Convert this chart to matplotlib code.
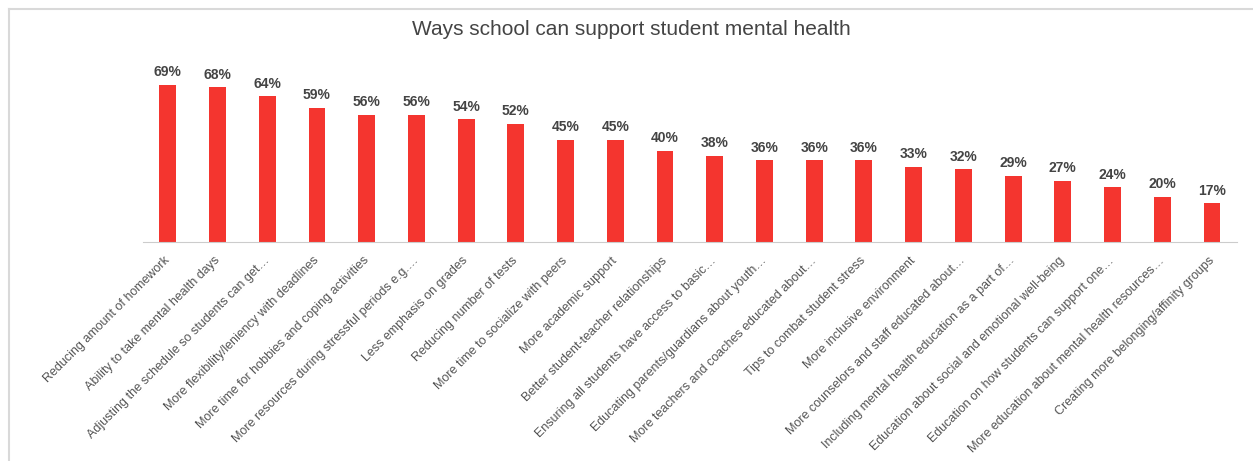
import matplotlib.pyplot as plt
import matplotlib.transforms as mtransforms
from matplotlib.lines import Line2D

plt.rcParams['font.family'] = ['Liberation Sans', 'DejaVu Sans']

categories = [
    "Reducing amount of homework",
    "Ability to take mental health days",
    "Adjusting the schedule so students can get…",
    "More flexibility/leniency with deadlines",
    "More time for hobbies and coping activities",
    "More resources during stressful periods e.g.…",
    "Less emphasis on grades",
    "Reducing number of tests",
    "More time to socialize with peers",
    "More academic support",
    "Better student-teacher relationships",
    "Ensuring all students have access to basic…",
    "Educating parents/guardians about youth…",
    "More teachers and coaches educated about…",
    "Tips to combat student stress",
    "More inclusive environment",
    "More counselors and staff educated about…",
    "Including mental health education as a part of…",
    "Education about social and emotional well-being",
    "Education on how students can support one…",
    "More education about mental health resources…",
    "Creating more belonging/affinity groups",
]
values = [69, 68, 64, 59, 56, 56, 54, 52, 45, 45, 40, 38, 36, 36, 36, 33, 32, 29, 27, 24, 20, 17]

fig = plt.figure(figsize=(12.53, 4.61), dpi=100)
ax = fig.add_axes([0.1141, 0.475, 0.873, 0.395])

x = range(len(categories))
ax.bar(x, values, width=0.34, color='#f4352f', zorder=2)
for i, v in zip(x, values):
    ax.annotate(f"{v}%", (i, v), xytext=(0, 4), textcoords='offset points',
                ha='center', va='bottom', fontsize=10, fontweight='bold', color='#444444')

ax.set_xlim(-0.5, len(categories) - 0.5)
ax.set_ylim(0, 80)
ax.set_xticks(list(x))
ax.set_xticklabels(categories, rotation=45, ha='right', rotation_mode='anchor',
                   fontsize=9, color='#555555')
ax.tick_params(axis='x', length=0, pad=9)
# nudge the slanted labels a little to the left
shift = mtransforms.ScaledTranslation(-4 / 100, 0, fig.dpi_scale_trans)
for lbl in ax.get_xticklabels():
    lbl.set_transform(lbl.get_transform() + shift)
ax.set_yticks([])
for side in ['top', 'right', 'left']:
    ax.spines[side].set_visible(False)
ax.spines['bottom'].set_color('#cccccc')

fig.text(0.504, 0.937, "Ways school can support student mental health",
         ha='center', va='center', fontsize=15, color='#444444')

# light frame along the top and left edges
fig.add_artist(Line2D([0.0068, 1.0], [0.981, 0.981], color='#d9d9d9', lw=1.5))
fig.add_artist(Line2D([0.0068, 0.0068], [0.0, 0.981], color='#d9d9d9', lw=1.5))

fig.savefig('out.png', dpi=100, facecolor='white')
